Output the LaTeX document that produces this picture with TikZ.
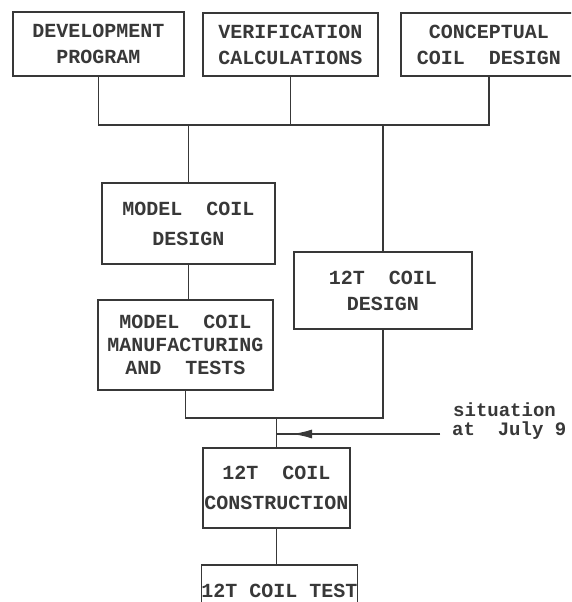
\documentclass[tikz,border=0pt]{standalone}
\usepackage{fontspec}
\setmonofont{Liberation Mono}
\usetikzlibrary{arrows.meta}
\begin{document}
\begin{tikzpicture}[x=1pt,y=-1pt,color=black!78,
% common options for blocks:
block/.style = {draw, line width=1.8pt, align=center, inner sep=0,
            font=\ttfamily\bfseries\fontsize{20}{26}\selectfont},
% common options for the connectors:
link/.style = {line width=1.8pt},
note/.style = {inner sep=0, anchor=base west,
            font=\ttfamily\bfseries\fontsize{19}{24}\selectfont}]
\clip (0,0) rectangle (571,602);
\node[block,minimum width=171pt,minimum height=64pt] (dev) at (98.5,44) {DEVELOPMENT\\PROGRAM};
\node[block,minimum width=175pt,minimum height=63pt] (ver) at (290.5,44.5) {VERIFICATION\\CALCULATIONS};
\node[block,minimum width=176pt,minimum height=63pt] (con) at (489,44.5) {CONCEPTUAL\\COIL\ \ DESIGN};
\node[block,minimum width=173pt,minimum height=81pt] (mcd) at (188.5,223.5) {MODEL\ \ COIL\\[4pt]DESIGN};
\node[block,minimum width=175pt,minimum height=90pt] (mcm) at (185.5,345) {MODEL\ \ COIL\\[-3pt]MANUFACTURING\\[-3pt]AND\ \ TESTS};
\node[block,minimum width=178pt,minimum height=77pt] (tcd) at (383,290.5) {12T\ \ COIL\\DESIGN};
\node[block,minimum width=147pt,minimum height=80pt] (tcc) at (276.5,488) {12T\ \ COIL\\[4pt]CONSTRUCTION};
\node[block,minimum width=153pt,minimum height=52pt] (tct) at (279.5,591) {12T COIL TEST};
\node[note] (sit) at (453,416) {situation};
\node[note] (july) at (452,435) {at\ \ July 9};
\coordinate (top bus) at (290,125);
\coordinate (low bus) at (280,418);
\coordinate (sit end) at (440,434);
\coordinate (tip) at (292,434);
\draw[link] (dev.south) |- (top bus) -| (con.south);
\draw[link] (ver.south) -- (ver.south |- top bus);
\draw[link] (mcd.north |- top bus) -- (mcd.north);
\draw[link] (tcd.north |- top bus) -- (tcd.north);
\draw[link] (mcd.south) -- (mcd.south |- mcm.north);
\draw[link] (mcm.south) |- (low bus) -| (tcd.south);
\draw[link] (tcc.north |- low bus) -- (tcc.north);
\draw[link] (sit end) -- (sit end -| tcc.north);
\draw[link,-{Latex[length=20pt,width=9pt]}] (sit end) -- (tip);
\draw[link] (tcc.south) -- (tcc.south |- tct.north);
\end{tikzpicture}
\end{document}
